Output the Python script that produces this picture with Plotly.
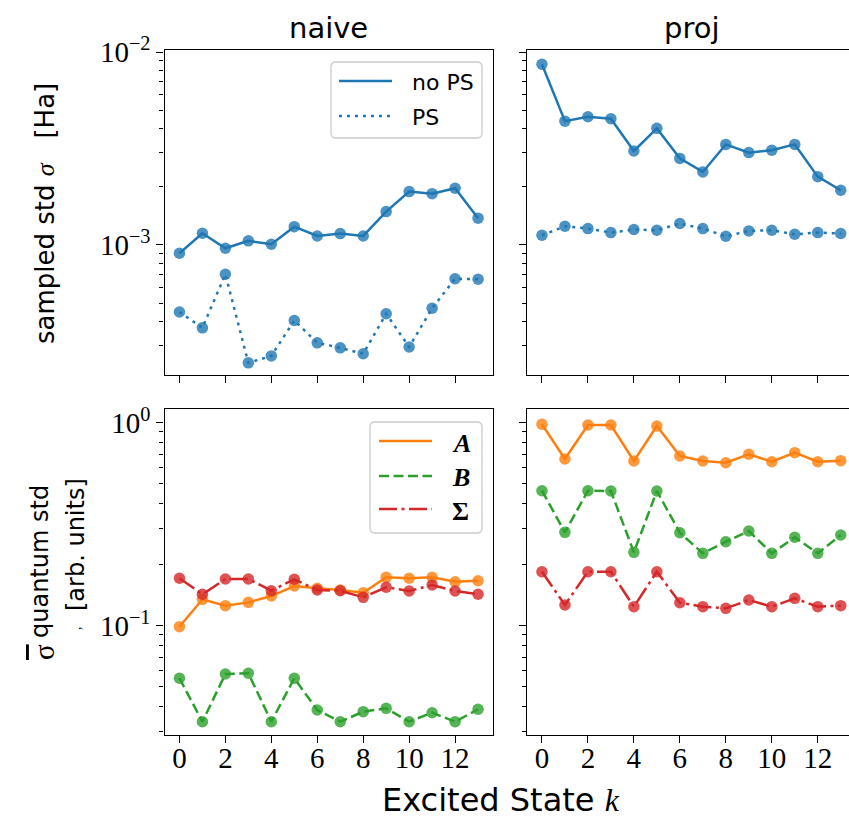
import plotly.graph_objects as go

# ---------------- data ----------------
k = list(range(14))

naive_noPS = [9.06e-4, 1.15e-3, 9.61e-4, 1.05e-3, 1.008e-3, 1.244e-3, 1.113e-3,
              1.145e-3, 1.113e-3, 1.489e-3, 1.89e-3, 1.845e-3, 1.967e-3, 1.377e-3]
naive_PS = [4.49e-4, 3.72e-4, 7.05e-4, 2.45e-4, 2.66e-4, 4.06e-4, 3.11e-4,
            2.93e-4, 2.73e-4, 4.40e-4, 2.96e-4, 4.70e-4, 6.68e-4, 6.64e-4]
proj_noPS = [8.64e-3, 4.38e-3, 4.62e-3, 4.51e-3, 3.07e-3, 4.02e-3, 2.81e-3,
             2.39e-3, 3.32e-3, 3.01e-3, 3.10e-3, 3.32e-3, 2.26e-3, 1.92e-3]
proj_PS = [1.123e-3, 1.25e-3, 1.216e-3, 1.159e-3, 1.202e-3, 1.192e-3, 1.291e-3,
           1.216e-3, 1.109e-3, 1.182e-3, 1.192e-3, 1.136e-3, 1.159e-3, 1.146e-3]

naive_A = [0.0989, 0.1349, 0.1255, 0.1303, 0.140, 0.1569, 0.1528,
           0.1499, 0.1454, 0.1731, 0.1712, 0.1731, 0.1647, 0.1666]
naive_B = [0.0551, 0.03366, 0.0578, 0.0583, 0.03366, 0.0551, 0.03844,
           0.03366, 0.03771, 0.03918, 0.03366, 0.03728, 0.03366, 0.03876]
naive_S = [0.1712, 0.1428, 0.1698, 0.1698, 0.1487, 0.1693, 0.1499,
           0.1487, 0.138, 0.1546, 0.1482, 0.1587, 0.1482, 0.1428]
proj_A = [0.982, 0.6626, 0.974, 0.974, 0.6477, 0.963, 0.6855,
          0.6477, 0.6353, 0.699, 0.6425, 0.7118, 0.6425, 0.65]
proj_B = [0.4624, 0.2884, 0.4624, 0.4608, 0.2299, 0.4608, 0.2871,
          0.2273, 0.2593, 0.2927, 0.2273, 0.2726, 0.2273, 0.2798]
proj_S = [0.1845, 0.1265, 0.1845, 0.1845, 0.1241, 0.1845, 0.1298,
          0.1241, 0.1218, 0.1338, 0.1241, 0.1364, 0.1241, 0.1255]

col_titles = ["naive", "proj"]
x_ticks = [0, 2, 4, 6, 8, 10, 12]
legend_top = ["no PS", "PS"]
legend_bot = ["<b><i>A</i></b>", "<b><i>B</i></b>", "<b>Σ</b>"]

BLUE, ORANGE, GREEN, RED = "#1f77b4", "#ff7f0e", "#2ca02c", "#d62728"
DOT = "3px,5px"
DASH = "10px,4.5px"
DASHDOT = "18px,4.5px,3px,4.5px"

W, H = 849, 821
SERIF = "Liberation Serif, DejaVu Serif, serif"
SANS = "DejaVu Sans, sans-serif"

def px(x):
    return x / W

def py(y):
    return 1 - y / H

fig = go.Figure()

panels = [
    ("x", "y", [(naive_noPS, BLUE, "solid"), (naive_PS, BLUE, DOT)]),
    ("x2", "y2", [(proj_noPS, BLUE, "solid"), (proj_PS, BLUE, DOT)]),
    ("x3", "y3", [(naive_A, ORANGE, "solid"), (naive_B, GREEN, DASH), (naive_S, RED, DASHDOT)]),
    ("x4", "y4", [(proj_A, ORANGE, "solid"), (proj_B, GREEN, DASH), (proj_S, RED, DASHDOT)]),
]
for xa, ya, series in panels:
    for vals, c, d in series:
        fig.add_trace(go.Scatter(x=k, y=vals, xaxis=xa, yaxis=ya, mode="markers",
                                 marker=dict(color=c, size=11.5, opacity=0.8, line=dict(width=0)),
                                 showlegend=False, hoverinfo="skip"))
        fig.add_trace(go.Scatter(x=k, y=vals, xaxis=xa, yaxis=ya, mode="lines",
                                 line=dict(color=c, width=2.5, dash=d),
                                 showlegend=False, hoverinfo="skip"))

LX = [px(164.5), px(493)]
RX = [px(527), 1.0]
TY = [py(375), py(50)]
BY = [py(735), py(409)]

TICKFONT = dict(family=SERIF, size=29, color="black")

def xax(dom, anchor, labels, rng, mirror=True):
    return dict(domain=dom, anchor=anchor, range=rng, tickmode="array", tickvals=x_ticks,
                ticktext=[str(t) for t in x_ticks], showticklabels=labels,
                ticks="outside", ticklen=7, tickwidth=1.2, tickcolor="black",
                ticklabelstandoff=-10,
                showline=True, linecolor="black", linewidth=1.4, mirror=mirror,
                showgrid=False, zeroline=False, tickfont=TICKFONT)

top_major = [1e-3, 1e-2]
top_minor = [m * 1e-4 for m in range(3, 10)] + [m * 1e-3 for m in range(2, 10)]
bot_major = [1e-1, 1e0]
bot_minor = [m * 1e-2 for m in range(3, 10)] + [m * 1e-1 for m in range(2, 10)]

def yax(dom, anchor, labels, rng, major, minor, texts, mirror=True):
    return dict(domain=dom, anchor=anchor, type="log", range=rng, tickmode="array",
                tickvals=major, ticktext=texts, showticklabels=labels,
                ticks="outside", ticklen=7, tickwidth=1.2, tickcolor="black",
                minor=dict(tickmode="array", tickvals=minor, ticks="outside", ticklen=4,
                           tickwidth=1.0, tickcolor="black", showgrid=False),
                showline=True, linecolor="black", linewidth=1.4, mirror=mirror,
                showgrid=False, zeroline=False, tickfont=TICKFONT)

top_rng = [-3.674, -1.9896]
bot_rng = [-1.5384, 0.0675]
top_txt = ["10<sup>−3</sup>", "10<sup>−2</sup>"]
bot_txt = ["10<sup>−1</sup>", "10<sup>0</sup>"]

fig.update_layout(
    width=W, height=H, margin=dict(l=0, r=0, t=0, b=0, autoexpand=False),
    paper_bgcolor="white", plot_bgcolor="white", showlegend=False,
    xaxis=xax(LX, "y", False, [-0.65, 13.65]),
    xaxis2=xax(RX, "y2", False, [-0.65, 13.36]),
    xaxis3=xax(LX, "y3", True, [-0.65, 13.65]),
    xaxis4=xax(RX, "y4", True, [-0.65, 13.36]),
    yaxis=yax(TY, "x", True, top_rng, top_major, top_minor, top_txt),
    yaxis2=yax(TY, "x2", False, top_rng, top_major, top_minor, top_txt, mirror=False),
    yaxis3=yax(BY, "x3", True, bot_rng, bot_major, bot_minor, bot_txt),
    yaxis4=yax(BY, "x4", False, bot_rng, bot_major, bot_minor, bot_txt, mirror=False),
)

ann = []
def text(x, y, s, size, family=SANS, angle=0, xanchor="center"):
    ann.append(dict(x=px(x), y=py(y), xref="paper", yref="paper", text=s, showarrow=False,
                    xanchor=xanchor, yanchor="middle", textangle=angle,
                    font=dict(family=family, size=size, color="black")))

text(328.7, 28, col_titles[0], 29)
text(691.5, 28, col_titles[1], 29)
text(501, 800, "Excited State <i><span style='font-family:Liberation Serif'>k</span></i>", 32)
text(45, 214, "sampled std <i><span style='font-family:Liberation Serif'>σ</span></i>   [Ha]", 26, angle=-90)
text(40, 562, "quantum std", 24, angle=-90)
text(76, 545, "[arb. units]", 24, angle=-90)
text(44, 652, "<span style='text-decoration:overline'>σ</span>", 29, family=SERIF, angle=-90)
text(76, 628, ",", 14, family=SERIF, angle=-90)

shapes = []
def box(x0, y0, x1, y1, r=5):
    X0, Y0, X1, Y1 = px(x0), py(y0), px(x1), py(y1)
    rx, ry = r / W, r / H
    path = (f"M{X0+rx},{Y0} L{X1-rx},{Y0} Q{X1},{Y0} {X1},{Y0-ry} "
            f"L{X1},{Y1+ry} Q{X1},{Y1} {X1-rx},{Y1} L{X0+rx},{Y1} Q{X0},{Y1} {X0},{Y1+ry} "
            f"L{X0},{Y0-ry} Q{X0},{Y0} {X0+rx},{Y0} Z")
    shapes.append(dict(type="path", xref="paper", yref="paper", path=path,
                       fillcolor="rgba(255,255,255,0.8)", line=dict(color="#cccccc", width=1.3)))

def lline(x0, x1, y, c, d):
    shapes.append(dict(type="line", xref="paper", yref="paper", x0=px(x0), x1=px(x1),
                       y0=py(y), y1=py(y), line=dict(color=c, width=2.5, dash=d)))

box(331, 62, 482, 138)
lline(339, 392, 81, BLUE, "solid")
lline(339, 392, 116, BLUE, DOT)
text(410, 83, legend_top[0], 22, xanchor="left")
text(410, 117, legend_top[1], 22, xanchor="left")

box(370, 422, 482, 533)
lline(379, 432, 441, ORANGE, "solid")
lline(379, 432, 476, GREEN, DASH)
lline(379, 432, 509, RED, DASHDOT)
text(450, 443, legend_bot[0], 26, family=SERIF, xanchor="left")
text(450, 477, legend_bot[1], 26, family=SERIF, xanchor="left")
text(450, 511, legend_bot[2], 26, family=SERIF, xanchor="left")

fig.update_layout(annotations=ann, shapes=shapes)
fig.write_html("out.html")
